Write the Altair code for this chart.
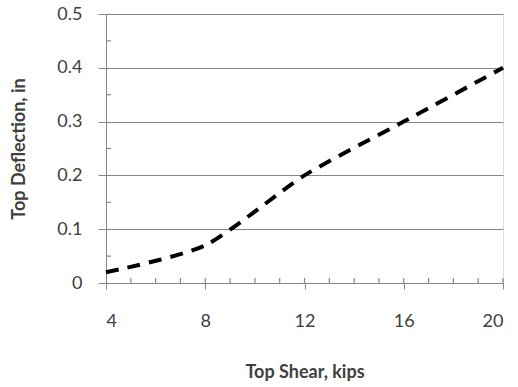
import altair as alt
import pandas as pd

# Top shear (kips) vs top deflection (in)
shear = [4, 8, 12, 16, 20]
deflection = [0.02, 0.07, 0.2, 0.3, 0.4]

x_major = [4, 8, 12, 16, 20]
x_minor = [5, 6, 7, 8, 9, 10, 11, 12, 13, 14, 15, 16, 17, 18, 19, 20]
y_major = [0, 0.1, 0.2, 0.3, 0.4, 0.5]
y_minor = [0.05, 0.15, 0.25, 0.35, 0.45]

FONT = "Lato"
GRID = "#868686"
TEXT = "#404040"

line_df = pd.DataFrame({"shear": shear, "deflection": deflection})
xminor_df = pd.DataFrame({"x": x_minor, "y0": [0] * len(x_minor), "y1": [0.0095] * len(x_minor)})
yminor_df = pd.DataFrame({"y": y_minor, "x0": [4] * len(y_minor), "x1": [4.2] * len(y_minor)})

xscale = alt.Scale(domain=[4, 20], nice=False, zero=False)
yscale = alt.Scale(domain=[0, 0.5], nice=False)

line = alt.Chart(line_df).mark_line(
    color="black", strokeWidth=4, strokeDash=[13, 9], interpolate="cardinal", tension=0.3
).encode(
    x=alt.X("shear:Q", scale=xscale, title="Top Shear, kips",
            axis=alt.Axis(values=x_major, grid=False, domainColor=GRID, tickColor=GRID,
                          tickSize=6, labelFontSize=18, labelColor=TEXT, labelFont=FONT,
                          labelPadding=23, titleFont=FONT, titleFontSize=18,
                          titleFontWeight="bold", titleColor=TEXT, titlePadding=33)),
    y=alt.Y("deflection:Q", scale=yscale, title="Top Deflection, in",
            axis=alt.Axis(values=y_major, format="~g", grid=True, gridColor=GRID,
                          gridWidth=1.2, domainColor=GRID, tickColor=GRID, tickSize=8,
                          labelFontSize=18, labelColor=TEXT, labelFont=FONT, labelPadding=16,
                          titleFont=FONT, titleFontSize=18, titleFontWeight="bold",
                          titleColor=TEXT, titlePadding=28)),
)

xminor = alt.Chart(xminor_df).mark_rule(color=GRID, strokeWidth=1.2).encode(
    x=alt.X("x:Q", scale=xscale), y=alt.Y("y0:Q", scale=yscale), y2="y1:Q"
)
yminor = alt.Chart(yminor_df).mark_rule(color=GRID, strokeWidth=1.2).encode(
    y=alt.Y("y:Q", scale=yscale), x=alt.X("x0:Q", scale=xscale), x2="x1:Q"
)

chart = alt.layer(xminor, yminor, line).properties(
    width=397, height=269,
    autosize=alt.AutoSizeParams(type="none"),
    padding={"left": 106, "top": 14, "right": 15, "bottom": 104},
).configure_view(stroke=None).configure(background="white")

chart.save("out.html", embed_options={"renderer": "svg", "actions": False})
